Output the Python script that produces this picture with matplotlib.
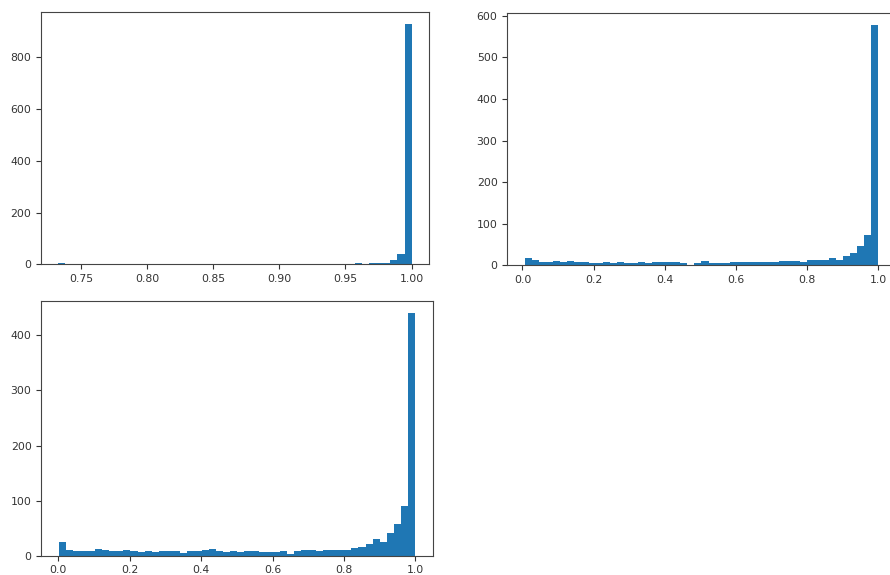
import matplotlib
matplotlib.use("Agg")
import matplotlib.pyplot as plt
import numpy as np

# range of the values and counts per bin (50 bins each)
range_a = (0.733, 1.0)
counts_a = [4, 0, 0, 0, 0, 0, 0, 0, 0, 0,
            0, 0, 0, 0, 0, 0, 0, 0, 0, 0,
            0, 0, 0, 0, 0, 0, 0, 0, 0, 0,
            0, 0, 0, 0, 0, 0, 0, 0, 0, 0,
            0, 0, 4, 0, 4, 4, 4, 15, 39, 930]

range_b = (0.007, 1.0)
counts_b = [18, 13, 7, 7, 10, 7, 10, 7, 7, 5,
            5, 7, 5, 7, 5, 5, 7, 5, 7, 7,
            7, 7, 5, 1, 5, 10, 5, 5, 5, 7,
            7, 7, 7, 7, 7, 7, 10, 10, 10, 7,
            13, 13, 13, 18, 12, 22, 29, 47, 72, 577]

range_c = (0.002, 1.0)
counts_c = [25, 10, 8, 8, 9, 12, 10, 8, 8, 10,
            8, 6, 8, 6, 8, 8, 8, 4, 8, 8,
            10, 12, 8, 6, 8, 6, 8, 8, 6, 6,
            6, 8, 3, 8, 10, 10, 8, 11, 10, 11,
            10, 14, 16, 22, 30, 25, 42, 57, 90, 441]

fig = plt.figure(figsize=(8.9, 5.75), dpi=100)

ax1 = fig.add_axes([0.0457, 0.5403, 0.4366, 0.4393])
ax2 = fig.add_axes([0.570, 0.5386, 0.4364, 0.4383])
ax3 = fig.add_axes([0.0464, 0.0336, 0.4404, 0.4435])

for ax, rng, counts in [(ax1, range_a, counts_a), (ax2, range_b, counts_b), (ax3, range_c, counts_c)]:
    edges = np.linspace(rng[0], rng[1], len(counts) + 1)
    ax.hist(edges[:-1], bins=edges, weights=counts, color='#1f77b4')
    ax.tick_params(labelsize=7.8, labelcolor='#333333', color='#333333', length=3.5, width=0.8)
    for s in ax.spines.values():
        s.set_color('#444444')
        s.set_linewidth(0.8)

ax1.set_xticks([0.75, 0.80, 0.85, 0.90, 0.95, 1.00])
ax1.set_xticklabels(['0.75', '0.80', '0.85', '0.90', '0.95', '1.00'])

fig.savefig('out.png', dpi=100)
